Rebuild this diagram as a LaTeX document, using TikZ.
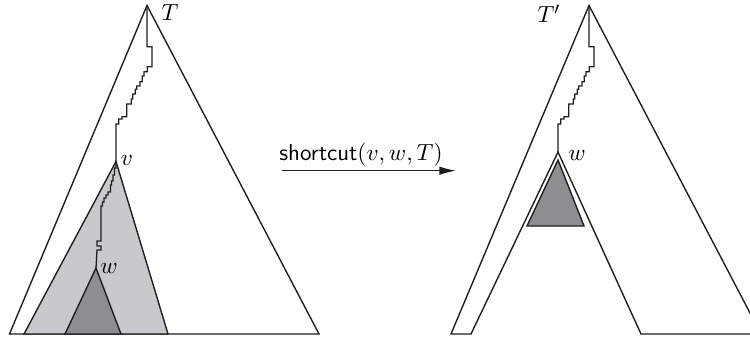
\documentclass[tikz,border=0pt]{standalone}
\usetikzlibrary{arrows.meta}
\definecolor{lightfill}{RGB}{200,201,204}
\definecolor{darkfill}{RGB}{141,142,146}
\definecolor{inkc}{RGB}{30,30,30}
\newcommand{\treestairs}{-- ++(0,41.2) -- ++(5,0) -- ++(0,20) -- ++(-4.7,0) -- ++(0,5) -- ++(-3.3,0) -- ++(0,4.3) -- ++(-1.7,0) -- ++(0,5.7) -- ++(-2.3,0) -- ++(0,4.3) -- ++(-3.3,0) -- ++(0,3.3) -- ++(-1.4,0) -- ++(0,4.7) -- ++(-2.6,0) -- ++(0,5) -- ++(-1.4,0) -- ++(0,5) -- ++(-4.6,0) -- ++(0,12.7) -- ++(-4.7,0) -- ++(0,2.3) -- ++(-3.3,0) -- ++(0,5) -- ++(-2.7,0)}
\newcommand{\vwstairs}{-- ++(0,6.5) -- ++(-1.5,0) -- ++(0,7) -- ++(-1.5,0) -- ++(0,6) -- ++(-1.5,0) -- ++(0,4) -- ++(-1,0) -- ++(0,7) -- ++(-2.5,0) -- ++(0,3) -- ++(-2,0) -- ++(0,3) -- ++(-2,0) -- ++(0,4) -- ++(-1.5,0) -- ++(0,4) -- ++(-1.5,0) -- ++(0,35) -- ++(-4,0) -- ++(0,5) -- ++(4,0) -- ++(0,4) -- ++(-4,0)}
\begin{document}
\begin{tikzpicture}[x=0.47pt,y=-0.47pt,line join=miter,
  treeline/.style={draw=inkc,line width=0.65pt},
  pathline/.style={draw=inkc,line width=0.6pt},
  lbl/.style={inner sep=0pt,font=\fontsize{10.8}{13}\selectfont}]
\useasboundingbox (0,0) rectangle (750,343);
\clip (0,0) rectangle (750,343);
% left tree
\coordinate (T1) at (147,5.5);
\coordinate (L1) at (9.5,334);
\coordinate (R1) at (319,334);
\coordinate (v) at (116,161.5);
\coordinate (vl) at (24,334);
\coordinate (vr) at (168,334);
\coordinate (w1) at (96,268);
\coordinate (w1l) at (65,334);
\coordinate (w1r) at (121,334);
\draw[treeline] (T1) -- (L1) -- (R1) -- cycle;
\filldraw[treeline,fill=lightfill] (v) -- (vl) -- (vr) -- cycle;
\filldraw[treeline,fill=darkfill] (w1) -- (w1l) -- (w1r) -- cycle;
\draw[pathline] (T1) \treestairs -- (v);
\draw[pathline] (v) \vwstairs -- (w1);
\node[lbl] (labT) at (170,13) {$T$};
\node[lbl] (labv) at (127,160) {$v$};
\node[lbl] (labw1) at (109,268) {$w$};
% arrow
\coordinate (a1) at (282,170.7);
\coordinate (a2) at (456,170.7);
\draw[treeline,-{Latex[length=7.8pt,width=4pt]}] (a1) -- (a2);
\node[lbl] (labsc) at (361,155) {\textsf{shortcut}$(v,w,T)$};
% right tree
\coordinate (T2) at (589,5.5);
\coordinate (L2) at (451,334);
\coordinate (N2l) at (471,334);
\coordinate (w2) at (558,152);
\coordinate (N2r) at (641,334);
\coordinate (R2) at (761,334);
\coordinate (d2) at (558,160);
\coordinate (d2l) at (527,226);
\coordinate (d2r) at (584,226);
\draw[treeline] (T2) -- (L2) -- (N2l) -- (w2) -- (N2r) -- (R2) -- cycle;
\filldraw[treeline,fill=darkfill] (d2) -- (d2l) -- (d2r) -- cycle;
\draw[pathline] (T2) \treestairs -- (w2);
\node[lbl] (labT2) at (549,14) {$T'$};
\node[lbl] (labw2) at (577,155) {$w$};
\end{tikzpicture}
\end{document}
